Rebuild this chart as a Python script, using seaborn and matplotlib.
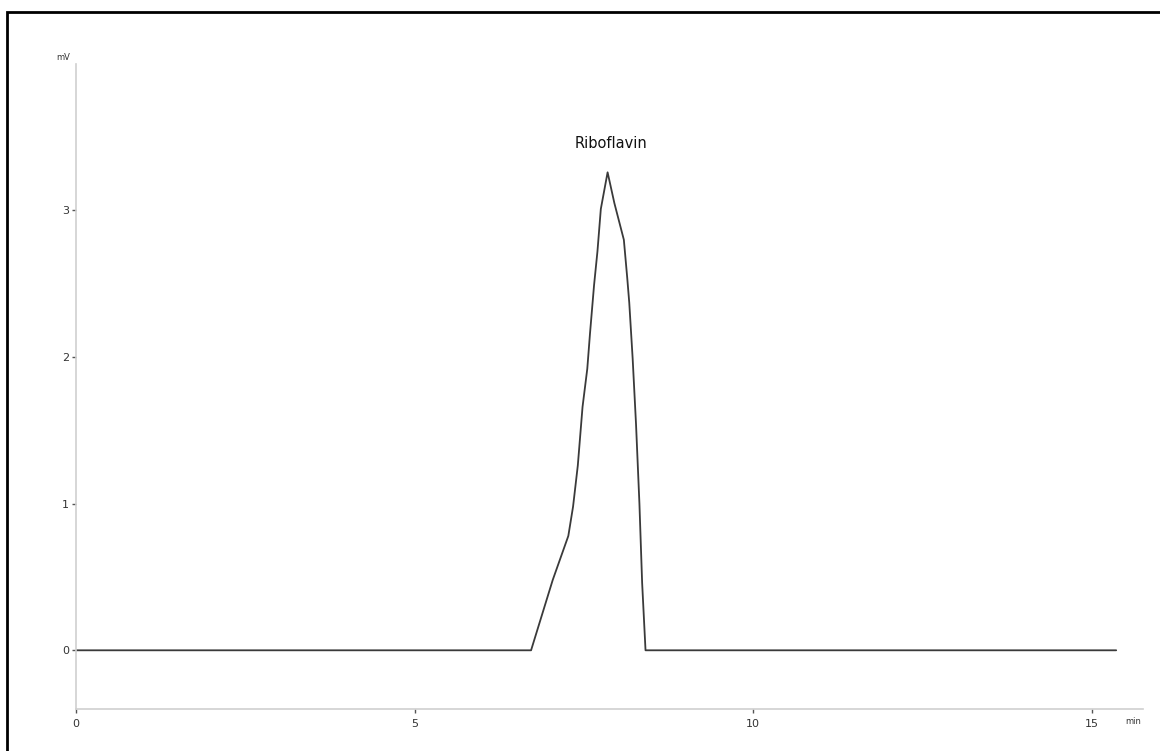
import numpy as np
import pandas as pd
import matplotlib
matplotlib.use("Agg")
import matplotlib.pyplot as plt
import seaborn as sns
from matplotlib.patches import Rectangle

# retention time (min) and detector signal (mV)
time_min = [0.0, 6.72, 7.04, 7.27, 7.34, 7.41, 7.48, 7.55, 7.59, 7.65, 7.70, 7.75,
            7.85, 7.95, 8.09, 8.14, 8.17, 8.22, 8.27, 8.32, 8.36, 8.41, 15.36]
signal_mv = [0.0, 0.0, 0.48, 0.78, 0.98, 1.26, 1.66, 1.92, 2.16, 2.49, 2.72, 3.01,
             3.26, 3.05, 2.80, 2.54, 2.37, 1.99, 1.54, 1.00, 0.46, 0.0, 0.0]
peak_name = "Riboflavin"
peak_pos = (7.9, 3.46)
x_ticks = [0, 5, 10, 15]
y_ticks = [0, 1, 2, 3]

df = pd.DataFrame({"time": time_min, "signal": signal_mv})

sns.set_style("white")
plt.rcParams['font.family'] = ['DejaVu Sans']

fig = plt.figure(figsize=(11.6, 7.51), dpi=100)
ax = fig.add_axes([0.0655, 0.056, 0.9195, 0.859])
sns.lineplot(data=df, x="time", y="signal", ax=ax, color="#3a3a3a", linewidth=1.3)

ax.set_xlim(0, 15.75)
ax.set_ylim(-0.40, 4.0)
ax.set_xticks(x_ticks)
ax.set_yticks(y_ticks)
ax.set_xlabel("")
ax.set_ylabel("")
for s in ["top", "right"]:
    ax.spines[s].set_visible(False)
for s in ["left", "bottom"]:
    ax.spines[s].set_color("#cfcfcf")
    ax.spines[s].set_linewidth(1.2)
ax.tick_params(axis="both", which="both", bottom=True, left=True, length=3, width=1,
               color="#555555", labelsize=8, labelcolor="#333333", pad=2, direction="out")
ax.tick_params(axis="x", pad=4)

ax.text(peak_pos[0], peak_pos[1], peak_name, ha="center", va="center", fontsize=10.5, color="#111111")
fig.text(63 / 1160, 1 - 57 / 751, "mV", ha="center", va="center", fontsize=6, color="#333333")
fig.text(1133 / 1160, 1 - 722 / 751, "min", ha="center", va="center", fontsize=6, color="#333333")

fig.patches.append(Rectangle((7 / 1160, -0.1), 1.2, 1 - 12 / 751 + 0.1, transform=fig.transFigure,
                             fill=False, edgecolor="black", linewidth=2))

fig.savefig("out.png", dpi=100)
